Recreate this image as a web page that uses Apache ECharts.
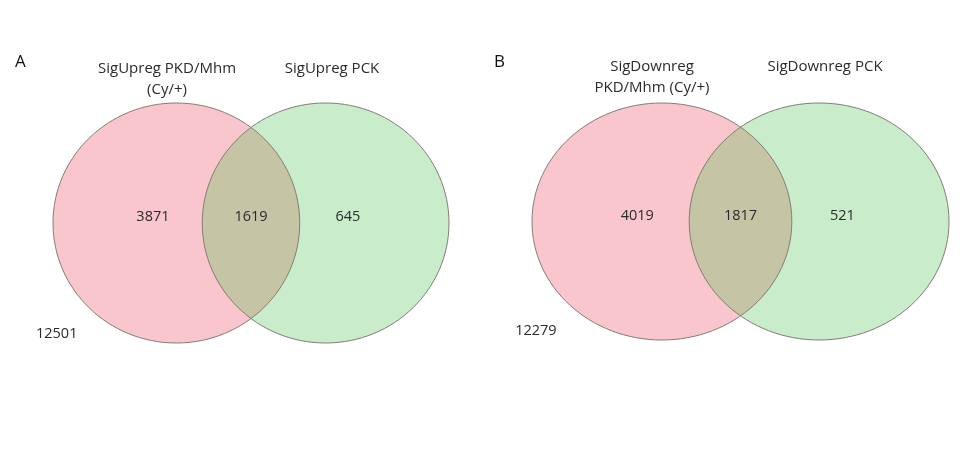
<!DOCTYPE html>
<html><head><meta charset="utf-8">
<script src="https://cdn.jsdelivr.net/npm/echarts@6/dist/echarts.min.js"></script>
<style>html,body{margin:0;padding:0;background:#fff}#c{width:974px;height:468px}</style>
</head><body><div id="c"></div><script>
// ---- data ----
const panelLetters = ['A', 'B'];
const leftSetNames = ['SigUpreg PKD/Mhm\n(Cy/+)', 'SigDownreg\nPKD/Mhm (Cy/+)'];
const rightSetNames = ['SigUpreg PCK', 'SigDownreg PCK'];
const onlyLeft = [3871, 4019];
const both = [1619, 1817];
const onlyRight = [645, 521];
const neither = [12501, 12279];

// ---- layout (not data) ----
const D = 1.21; // centre distance in radius units
const grids = [
  {left: 53, top: 103, width: 396, height: 240},
  {left: 532, top: 103, width: 417, height: 237}
];
const labelPos = {onlyLeft: [-0.19, 0.05], both: [D / 2, 0.05], onlyRight: [1.39, 0.05], neither: [-0.97, -0.92]};
const titlePos = [
  {letter: [15, 62], left: [167, 79.5], right: [332, 69]},
  {letter: [494, 62], left: [652, 77.5], right: [825, 67]}
];
const PINK = '#f8c6cc', GREEN = '#c9eccb', OVER = '#c5c4a4', EDGE = '#857c76';
const FONT = "'Open Sans', 'Noto Sans', sans-serif";
const TXT = '#2b2b2b';

function renderVenn(params, api) {
  const c1 = api.coord([0, 0]);
  const c2 = api.coord([api.value(0), 0]);
  const s = api.size([1, 1]);
  const rx = s[0], ry = s[1];
  const d = api.value(0);
  const t0 = Math.acos(d / 2);
  const pts = [];
  const N = 80;
  for (let i = 0; i <= N; i++) {
    const t = -t0 + 2 * t0 * i / N;
    pts.push(api.coord([Math.cos(t), Math.sin(t)]));
  }
  for (let i = 0; i <= N; i++) {
    const t = t0 - 2 * t0 * i / N;
    pts.push(api.coord([d - Math.cos(t), Math.sin(t)]));
  }
  return {
    type: 'group',
    children: [
      {type: 'ellipse', shape: {cx: c1[0], cy: c1[1], rx: rx, ry: ry}, style: {fill: PINK, stroke: null}},
      {type: 'ellipse', shape: {cx: c2[0], cy: c2[1], rx: rx, ry: ry}, style: {fill: GREEN, stroke: null}},
      {type: 'polygon', shape: {points: pts}, style: {fill: OVER, stroke: null}},
      {type: 'ellipse', shape: {cx: c1[0], cy: c1[1], rx: rx, ry: ry}, style: {fill: 'none', stroke: EDGE, lineWidth: 1}},
      {type: 'ellipse', shape: {cx: c2[0], cy: c2[1], rx: rx, ry: ry}, style: {fill: 'none', stroke: EDGE, lineWidth: 1}}
    ]
  };
}

const xAxis = [], yAxis = [], series = [], graphic = [];
grids.forEach((g, i) => {
  xAxis.push({type: 'value', gridIndex: i, min: -1, max: 1 + D, show: false});
  yAxis.push({type: 'value', gridIndex: i, min: -1, max: 1, show: false});
  series.push({
    type: 'custom', xAxisIndex: i, yAxisIndex: i, silent: true,
    renderItem: renderVenn, data: [[D]], clip: false
  });
  series.push({
    type: 'scatter', xAxisIndex: i, yAxisIndex: i, silent: true, symbolSize: 0,
    itemStyle: {opacity: 1},
    label: {show: true, position: 'inside', formatter: p => String(p.value[2]),
      fontFamily: FONT, fontSize: 14.5, color: TXT, opacity: 1},
    data: [
      [labelPos.onlyLeft[0], labelPos.onlyLeft[1], onlyLeft[i]],
      [labelPos.both[0], labelPos.both[1], both[i]],
      [labelPos.onlyRight[0], labelPos.onlyRight[1], onlyRight[i]],
      [labelPos.neither[0], labelPos.neither[1], neither[i]]
    ]
  });
  const tp = titlePos[i];
  graphic.push({type: 'text', x: tp.letter[0], y: tp.letter[1],
    style: {text: panelLetters[i], font: '17px ' + FONT, fill: '#111', textVerticalAlign: 'middle'}});
  graphic.push({type: 'text', x: tp.left[0], y: tp.left[1],
    style: {text: leftSetNames[i], font: '15px ' + FONT, fill: TXT, textAlign: 'center', textVerticalAlign: 'middle', lineHeight: 21}});
  graphic.push({type: 'text', x: tp.right[0], y: tp.right[1],
    style: {text: rightSetNames[i], font: '15px ' + FONT, fill: TXT, textAlign: 'center', textVerticalAlign: 'middle'}});
});

const chart = echarts.init(document.getElementById('c'), null, {renderer: 'canvas'});
chart.setOption({
  animation: false,
  backgroundColor: '#ffffff',
  grid: grids,
  xAxis: xAxis,
  yAxis: yAxis,
  series: series,
  graphic: graphic
});
</script></body></html>
